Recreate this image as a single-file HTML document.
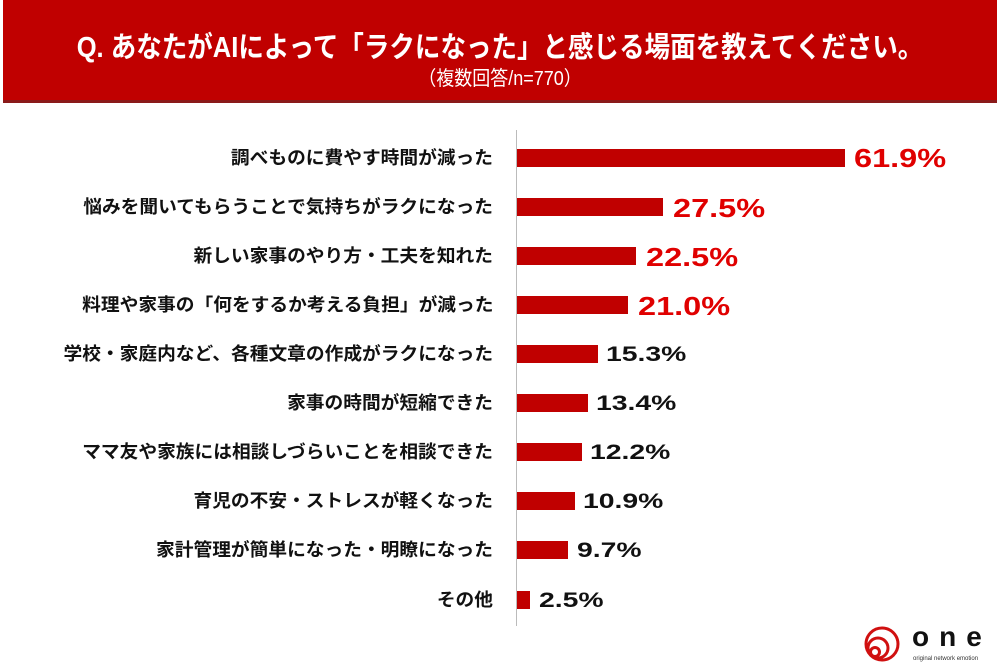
<!DOCTYPE html>
<html><head><meta charset="utf-8"><style>
body{margin:0;width:1000px;height:667px;background:#fff;position:relative;overflow:hidden;font-family:"Liberation Sans","Noto Sans CJK JP",sans-serif;}
.hdr{position:absolute;left:3px;top:0;width:994px;height:100px;background:#c00000;border-bottom:3px solid #8a1a1a;color:#fff;text-align:center;}
.t1{position:absolute;top:24px;left:0;width:100%;font-size:29px;font-weight:bold;transform:scaleX(0.88);}
.t2{position:absolute;top:62px;left:0;width:100%;font-size:20px;transform:scaleX(0.9);}
.axis{position:absolute;left:516px;top:130px;width:1px;height:496px;background:#bbb;}
.lab{position:absolute;right:507px;font-size:18px;font-weight:bold;color:#111;white-space:nowrap;line-height:20px;transform:scaleX(1.04);transform-origin:right center;}
.bar{position:absolute;left:517px;height:18px;background:#c00000;}
.val{position:absolute;font-weight:bold;white-space:nowrap;transform-origin:left center;}
.big{font-size:26px;color:#e00000;line-height:26px;transform:scaleX(1.25);}
.sm{font-size:21px;color:#111;line-height:20px;transform:scaleX(1.35);}
</style></head><body>
<div class="hdr"><div class="t1">Q. あなたがAIによって「ラクになった」と感じる場面を教えてください。</div><div class="t2">（複数回答/n=770）</div></div>
<div class="axis"></div>

<div class="lab" style="top:148px">調べものに費やす時間が減った</div>
<div class="bar" style="top:149px;width:328px"></div>
<div class="val big" style="left:854px;top:145px">61.9%</div>

<div class="lab" style="top:197px">悩みを聞いてもらうことで気持ちがラクになった</div>
<div class="bar" style="top:198px;width:146px"></div>
<div class="val big" style="left:673px;top:195px">27.5%</div>

<div class="lab" style="top:246px">新しい家事のやり方・工夫を知れた</div>
<div class="bar" style="top:247px;width:119px"></div>
<div class="val big" style="left:646px;top:244px">22.5%</div>

<div class="lab" style="top:295px">料理や家事の「何をするか考える負担」が減った</div>
<div class="bar" style="top:296px;width:111px"></div>
<div class="val big" style="left:638px;top:293px">21.0%</div>

<div class="lab" style="top:344px">学校・家庭内など、各種文章の作成がラクになった</div>
<div class="bar" style="top:345px;width:81px"></div>
<div class="val sm" style="left:606px;top:345px">15.3%</div>

<div class="lab" style="top:393px">家事の時間が短縮できた</div>
<div class="bar" style="top:394px;width:71px"></div>
<div class="val sm" style="left:596px;top:394px">13.4%</div>

<div class="lab" style="top:442px">ママ友や家族には相談しづらいことを相談できた</div>
<div class="bar" style="top:443px;width:65px"></div>
<div class="val sm" style="left:590px;top:443px">12.2%</div>

<div class="lab" style="top:491px">育児の不安・ストレスが軽くなった</div>
<div class="bar" style="top:492px;width:58px"></div>
<div class="val sm" style="left:583px;top:492px">10.9%</div>

<div class="lab" style="top:540px">家計管理が簡単になった・明瞭になった</div>
<div class="bar" style="top:541px;width:51px"></div>
<div class="val sm" style="left:577px;top:541px">9.7%</div>

<div class="lab" style="top:590px">その他</div>
<div class="bar" style="top:591px;width:13px"></div>
<div class="val sm" style="left:539px;top:591px">2.5%</div>

<svg style="position:absolute;left:862px;top:624px" width="40" height="40" viewBox="0 0 40 40">
<circle cx="20" cy="20" r="16" fill="none" stroke="#d01010" stroke-width="3"/>
<circle cx="16" cy="24" r="10" fill="none" stroke="#d01010" stroke-width="3"/>
<circle cx="13" cy="28" r="4.5" fill="none" stroke="#d01010" stroke-width="3"/>
</svg>
<div style="position:absolute;left:912px;top:622px;font-size:28px;font-weight:bold;letter-spacing:10px;color:#111;line-height:30px">one</div>
<div style="position:absolute;left:913px;top:656px;font-size:6px;color:#333;white-space:nowrap">original network emotion</div>
</body></html>
